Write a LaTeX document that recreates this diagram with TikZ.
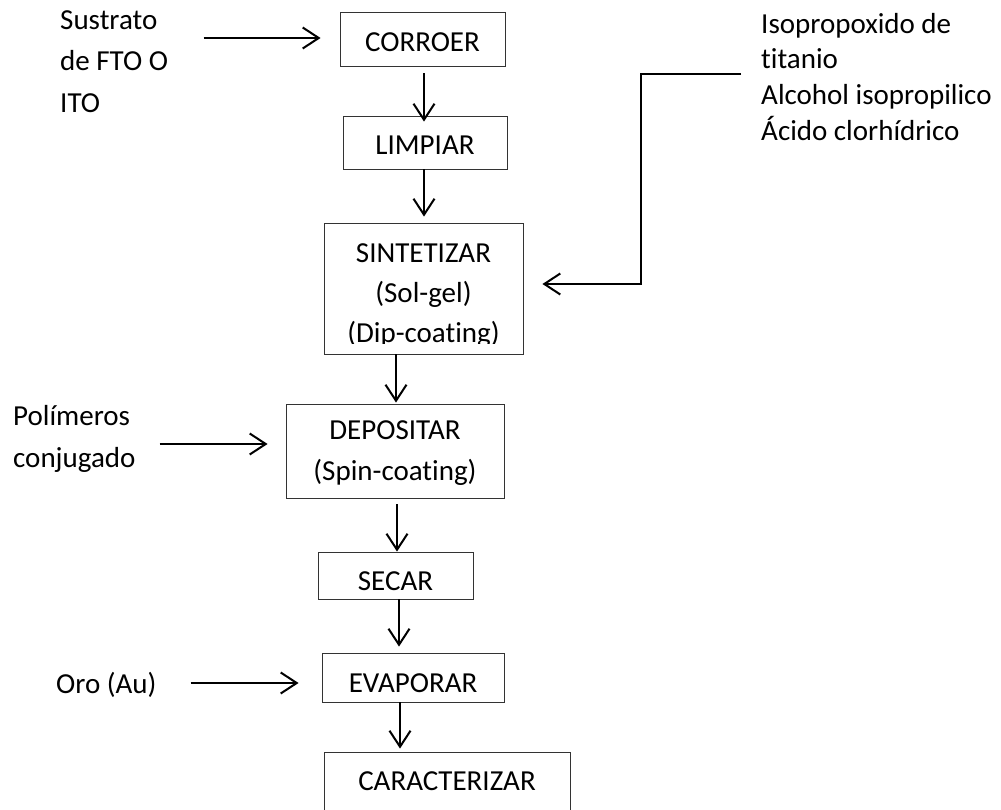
\documentclass[tikz,border=0pt]{standalone}
\usepackage{fontspec}
\setmainfont{Carlito}[Ligatures={NoCommon}]
\usetikzlibrary{arrows.meta,calc}
\begin{document}
\begin{tikzpicture}[x=1pt,y=-1pt,
  box/.style={draw=black!80,line width=0.9pt,inner sep=0pt,align=center,font=\fontsize{29}{41}\selectfont},
  side/.style={inner sep=0pt,align=left,anchor=north west},
  arr/.style={line width=2pt,-{Straight Barb[length=16pt,width=21pt]}}]
\useasboundingbox (0,0) rectangle (1001,810);
\clip (0,0) rectangle (1001,810);
\fill[white] (0,0) rectangle (1001,810);

% boxes
\node[box,minimum width=165pt,minimum height=54pt,text height=24.1pt,text depth=0pt] (c1) at (422.5,39) {CORROER};
\node[box,minimum width=164pt,minimum height=53pt,text height=23.7pt,text depth=0pt] (c2) at (425,142.5) {LIMPIAR};
\node[box,minimum width=199pt,minimum height=131pt] (c3) at (423.5,288.5) {};
\begin{scope}
  \clip (324,223) rectangle (523,343);
  \node[inner sep=0pt,align=center,anchor=north,font=\fontsize{29}{40}\selectfont] (c3t) at (423.5,238) {\rule{0pt}{24pt}SINTETIZAR\\(Sol-gel)\\(Dip-coating)};
\end{scope}
\node[box,minimum width=218pt,minimum height=94pt,text depth=0pt] (c4) at (395,451) {DEPOSITAR\\(Spin-coating)};
\node[box,minimum width=155pt,minimum height=47pt,text height=29.7pt,text depth=0pt] (c5) at (395.5,575.5) {SECAR};
\node[box,minimum width=182pt,minimum height=49pt,text height=29.7pt,text depth=0pt] (c6) at (413,677.5) {EVAPORAR};
\node[box,minimum width=246pt,minimum height=60pt,text height=16.7pt,text depth=0pt] (c7) at (447,782) {CARACTERIZAR};

% side texts
\node[side,font=\fontsize{29}{41.5}\selectfont] (sus) at (60,5) {\rule{0pt}{24pt}Sustrato\\de FTO O\\ITO};
\node[side,font=\fontsize{29}{35.7}\selectfont] (iso) at (761,9) {\rule{0pt}{24pt}Isopropoxido de\\titanio\\Alcohol isopropilico\\Ácido clorhídrico};
\node[side,font=\fontsize{29}{42}\selectfont] (pol) at (13,401) {\rule{0pt}{24pt}Polímeros\\conjugado};
\node[inner sep=0pt,anchor=base west,font=\fontsize{29}{35}\selectfont] (oro) at (56,693) {Oro (Au)};

% connectors
\coordinate (susout) at ($(c1.west)+(-136,-1)$);
\draw[arr] (susout) -- ($(c1.west)+(-19,-1)$);
\draw[arr] ($(c1.south)+(1.5,7)$) -- ($(c2.north)+(-1,6)$);
\draw[arr] ($(c2.south)+(-1,0)$) -- ($(c3.north)+(0.5,-6)$);
\coordinate (isoout) at (741,74);
\draw[arr] (isoout) -- ++(-100,0) |- ($(c3.east)+(19,-4.5)$);
\draw[arr] ($(c3.south)+(-27.5,0)$) -- ($(c4.north)+(1,-1)$);
\coordinate (polout) at ($(c4.west)+(-126,-7)$);
\draw[arr] (polout) -- ($(c4.west)+(-18,-7)$);
\draw[arr] ($(c4.south)+(2,6)$) -- ($(c5.north)+(1.5,0)$);
\draw[arr] ($(c5.south)+(3.5,0)$) -- ($(c6.north)+(-14,-6)$);
\coordinate (oroout) at ($(c6.west)+(-131,5.5)$);
\draw[arr] (oroout) -- ($(c6.west)+(-23,5.5)$);
\draw[arr] ($(c6.south)+(-13,0)$) -- ($(c7.north)+(-47,-3)$);
\end{tikzpicture}
\end{document}
